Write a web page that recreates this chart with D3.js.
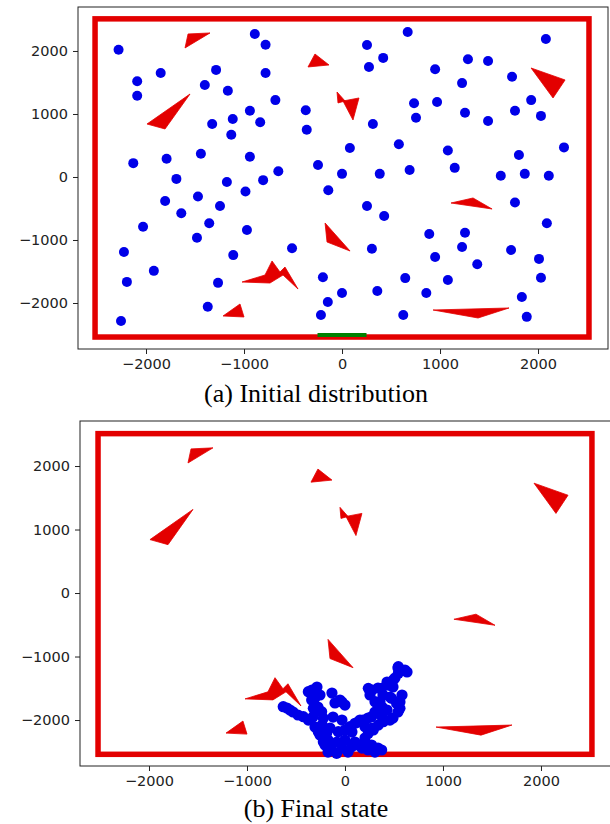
<!DOCTYPE html>
<html>
<head>
<meta charset="utf-8">
<script src="https://cdn.jsdelivr.net/npm/d3@7"></script>
<style>
  body { margin: 0; background: #fff; }
  svg { display: block; }
</style>
</head>
<body>
<svg id="chart"></svg>
<script>
// ---------------------------------------------------------------------------
// Data (arena units)
// ---------------------------------------------------------------------------

const xTicks = [-2000, -1000, 0, 1000, 2000];
const yTicks = [-2000, -1000, 0, 1000, 2000];
const captions = ["(a) Initial distribution", "(b) Final state"];

// walls of the arena and the exit on the bottom wall
const arenaX = [-2520, 2520];
const arenaY = [-2540, 2510];
const exitX = [-250, 250];

// static obstacles (same in both panels)
const obstacles = [
  [[-1602, 2048], [-1571, 2270], [-1347, 2286]],
  [[-1551, 1317], [-1990, 841], [-1806, 762]],
  [[-347, 1746], [-276, 1952], [-133, 1778]],
  [[-51, 1349], [-41, 1175], [31, 1206]],
  [[10, 1206], [173, 1254], [112, 905]],
  [[1929, 1730], [2276, 1540], [2153, 1254]],
  [[1112, -413], [1337, -333], [1531, -508]],
  [[-173, -730], [-153, -1032], [82, -1175]],
  [[929, -2111], [1704, -2079], [1388, -2238]],
  [[-1214, -2206], [-1041, -2016], [-1000, -2222]],
  [[-1020, -1667], [-786, -1556], [-714, -1333], [-633, -1508], [-582, -1429],
   [-449, -1778], [-602, -1556], [-735, -1683]]
];

const initialAgents = [
  [-2280, 2020], [-2090, 1520], [-2090, 1290], [-1850, 1650], [-1285, 1700],
  [-1400, 1460], [-1165, 1370], [-890, 2270], [-780, 2100], [-780, 1650],
  [-680, 1220], [-940, 1050], [-1115, 920], [-835, 870], [-1325, 840],
  [-1130, 670], [-2130, 220], [-1790, 290], [-1440, 370], [-940, 320],
  [-650, 90], [-1690, -30], [-1175, -80], [-805, -50], [-985, -230],
  [-1470, -310], [-370, 1060], [-360, 750],
  [670, 2300], [255, 2095], [420, 1890], [275, 1745], [735, 1170],
  [755, 940], [970, 1190], [950, 1710], [1285, 1870], [1490, 1840],
  [1225, 1490], [1735, 1590], [2080, 2190], [1930, 1220], [1765, 1050],
  [2030, 970], [1255, 1020], [1490, 890], [315, 840], [80, 460],
  [580, 520], [1080, 420], [1805, 350], [2265, 470], [-245, 190],
  [0, 50], [385, 50], [690, 110], [1150, 145], [1620, 20],
  [1865, 50], [2110, 20], [-140, -210], [1765, -405],
  [-1805, -380], [-1245, -460], [-1640, -575], [-2030, -790], [-1355, -735],
  [-1480, -965], [-970, -840], [-2225, -1190], [-1920, -1490], [-1110, -1240],
  [-510, -1130], [-2195, -1665], [-1265, -1680], [-1370, -2060], [-2255, -2285],
  [255, -460], [430, -620], [2090, -735], [890, -905], [1255, -885],
  [1225, -1110], [950, -1270], [1380, -1385], [1725, -1160], [2010, -1300],
  [2030, -1600], [305, -1140], [-195, -1590], [0, -1840], [-145, -1985],
  [-215, -2190], [645, -1605], [360, -1810], [860, -1840], [1080, -1635],
  [625, -2190], [1835, -1905], [1885, -2220]
];

const finalAgents = [
  [-592, -1811], [-530, -1874], [-480, -1921], [-337, -1528], [-286, -1480],
  [-306, -1654], [-276, -1795], [-327, -1953], [-306, -2110], [-235, -2079],
  [-255, -2236], [-204, -2394], [-173, -2504], [-102, -1732], [-31, -1717],
  [-122, -1953], [-153, -2126], [-82, -2346], [-31, -2441], [31, -2504],
  [0, -2315], [71, -2189], [133, -2031], [184, -2000], [102, -2346],
  [173, -2441], [235, -2472], [306, -2504], [337, -2441], [204, -2283],
  [276, -2126], [235, -1969], [306, -1874], [378, -1953], [378, -1795],
  [429, -1843], [276, -1528], [337, -1496], [388, -1606], [459, -1638],
  [490, -1480], [510, -1339], [541, -1181], [633, -1244], [561, -1717],
  [541, -1874], [490, -1969], [582, -1606], [429, -1402], [-31, -2000],
  [-173, -2315], [-133, -1575],
  [-630, -1790], [-561, -1843], [-425, -1948], [-374, -2000], [-374, -1554],
  [-255, -1606], [-340, -1685], [-323, -1816], [-238, -1869], [-221, -1973],
  [-272, -2184], [-187, -2210], [-221, -2342], [-136, -2394], [-85, -2525],
  [-51, -1685], [0, -1764], [-68, -2184], [0, -2157], [51, -2105],
  [102, -2052], [153, -2000], [68, -2420], [136, -2394], [204, -2367],
  [272, -2394], [374, -2472], [238, -1501], [374, -1501], [442, -1449],
  [493, -1370], [544, -1265], [544, -1160], [612, -1213], [476, -1659],
  [527, -1738], [561, -1816], [459, -2000], [391, -2026], [340, -2079],
  [289, -2157], [238, -2210], [204, -2105], [272, -1948], [340, -1790],
  [306, -1711], [357, -1711], [255, -1606]
];

// ---------------------------------------------------------------------------
// Layout
// ---------------------------------------------------------------------------

const W = 610, H = 824;
const RED = "#e30000";
const BLUE = "#0000e8";

const panels = [
  { frame: { left: 78, top: 7, right: 608, bottom: 349 },
    xDomain: [-2694, 2714], yDomain: [-2730, 2698], r: 5,
    agents: initialAgents, showExit: true, caption: captions[0], captionY: 402 },
  { frame: { left: 80, top: 421, right: 613, bottom: 766 },
    xDomain: [-2704, 2735], yDomain: [-2724, 2709], r: 5.6,
    agents: finalAgents, showExit: false, caption: captions[1], captionY: 817 }
];

const svg = d3.select("#chart").attr("width", W).attr("height", H);

panels.forEach(drawPanel);

function drawPanel(p) {
  const f = p.frame;
  const x = d3.scaleLinear().domain(p.xDomain).range([f.left, f.right]);
  const y = d3.scaleLinear().domain(p.yDomain).range([f.bottom, f.top]);
  const g = svg.append("g");

  // arena walls
  g.append("rect")
    .attr("x", x(arenaX[0])).attr("y", y(arenaY[1]))
    .attr("width", x(arenaX[1]) - x(arenaX[0]))
    .attr("height", y(arenaY[0]) - y(arenaY[1]))
    .attr("fill", "none").attr("stroke", RED).attr("stroke-width", 5.5);

  if (p.showExit) {
    g.append("line")
      .attr("x1", x(exitX[0])).attr("x2", x(exitX[1]))
      .attr("y1", y(arenaY[0]) - 2).attr("y2", y(arenaY[0]) - 2)
      .attr("stroke", "green").attr("stroke-width", 4);
  }

  // obstacles
  g.selectAll("path.obstacle")
    .data(obstacles)
    .join("path")
    .attr("class", "obstacle")
    .attr("d", d => d3.line().x(v => x(v[0])).y(v => y(v[1]))(d) + "Z")
    .attr("fill", RED).attr("stroke", RED).attr("stroke-width", 0.8)
    .attr("stroke-linejoin", "miter");

  // agents
  g.selectAll("circle")
    .data(p.agents)
    .join("circle")
    .attr("cx", d => x(d[0]))
    .attr("cy", d => y(d[1]))
    .attr("r", p.r)
    .attr("fill", BLUE);

  // axes frame
  g.append("rect")
    .attr("x", f.left).attr("y", f.top)
    .attr("width", f.right - f.left).attr("height", f.bottom - f.top)
    .attr("fill", "none").attr("stroke", "#222").attr("stroke-width", 1);

  const xAxis = g.append("g")
    .attr("transform", `translate(0,${f.bottom})`)
    .call(d3.axisBottom(x).tickValues(xTicks).tickSize(5).tickPadding(5).tickFormat(d3.format("d")));
  const yAxis = g.append("g")
    .attr("transform", `translate(${f.left},0)`)
    .call(d3.axisLeft(y).tickValues(yTicks).tickSize(5).tickPadding(5).tickFormat(d3.format("d")));

  [xAxis, yAxis].forEach(a => {
    a.select(".domain").remove();
    a.selectAll("line").attr("stroke", "#222");
    a.selectAll("text")
      .attr("fill", "#222")
      .style("font-family", "'DejaVu Sans', sans-serif")
      .style("font-size", "14.5px");
  });

  // caption
  svg.append("text")
    .attr("x", 316).attr("y", p.captionY)
    .attr("text-anchor", "middle")
    .style("font-family", "'Liberation Serif', 'Times New Roman', serif")
    .style("font-size", "26px")
    .attr("fill", "#000")
    .text(p.caption);
}
</script>
</body>
</html>
